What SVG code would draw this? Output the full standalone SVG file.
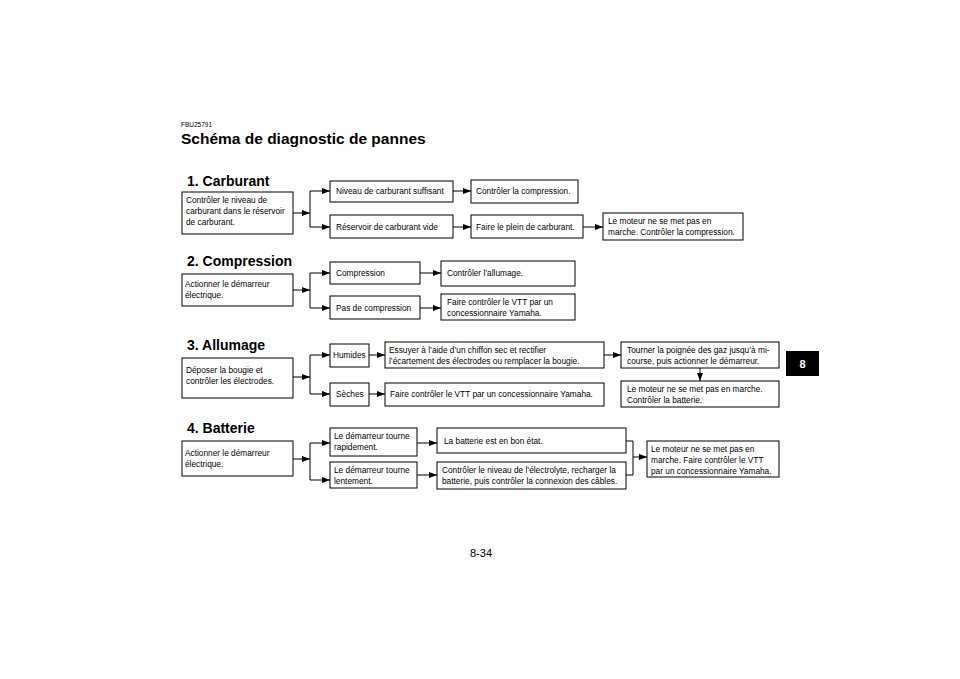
<svg xmlns="http://www.w3.org/2000/svg" width="960" height="679" viewBox="0 0 960 679">
<defs>
<marker id="ar" markerWidth="8" markerHeight="6" refX="8" refY="3" orient="auto" markerUnits="userSpaceOnUse"><path d="M0,0 L8,3 L0,6 z" fill="#000"/></marker>
<style>
.b{fill:#fff;stroke:#000;stroke-width:1}
.t{font-family:"Liberation Sans",Arial,sans-serif;font-size:8.3px;fill:#000}
.h{font-family:"Liberation Sans",Arial,sans-serif;font-size:14px;font-weight:bold;fill:#000}
.c{fill:none;stroke:#000;stroke-width:1}
.a{fill:none;stroke:#000;stroke-width:1;marker-end:url(#ar)}
</style>
</defs>
<rect width="960" height="679" fill="#fff"/>
<text x="181" y="127" style="font-family:'Liberation Sans',Arial,sans-serif;font-size:6.5px">FBU25791</text>
<text x="181" y="144" style="font-family:'Liberation Sans',Arial,sans-serif;font-size:15.5px;font-weight:bold">Schéma de diagnostic de pannes</text>
<text class="h" x="187" y="186">1. Carburant</text>
<text class="h" x="187" y="266">2. Compression</text>
<text class="h" x="187" y="350">3. Allumage</text>
<text class="h" x="187" y="433">4. Batterie</text>
<g id="connectors">
<path class="a" d="M293,213 H310"/><path class="c" d="M310,191 V227"/><path class="a" d="M310,191 H330"/><path class="a" d="M310,227 H330"/>
<path class="a" d="M453,191 H471"/><path class="a" d="M453,227 H471"/><path class="a" d="M583,227 H603"/>
<path class="a" d="M293,290 H310"/><path class="c" d="M310,273 V308"/><path class="a" d="M310,273 H330"/><path class="a" d="M310,308 H330"/>
<path class="a" d="M420,273 H441"/><path class="a" d="M420,308 H441"/>
<path class="a" d="M293,377 H310"/><path class="c" d="M310,355 V394"/><path class="a" d="M310,355 H330"/><path class="a" d="M310,394 H330"/>
<path class="a" d="M369,355 H385"/><path class="a" d="M369,394 H385"/><path class="a" d="M604,355 H621"/><path class="a" d="M700,368 V381"/>
<path class="a" d="M293,459 H310"/><path class="c" d="M310,443 V480"/><path class="a" d="M310,443 H330"/><path class="a" d="M310,480 H330"/>
<path class="a" d="M417,443 H437"/><path class="a" d="M417,475 H437"/>
<path class="c" d="M626,441 H633 V475 H626"/><path class="a" d="M633,457 H647"/>
</g>
<g id="n1a"><rect class="b" x="182" y="192" width="111" height="42"/><text class="t" x="186" y="203">Contrôler le niveau de</text><text class="t" x="186" y="214">carburant dans le réservoir</text><text class="t" x="186" y="225">de carburant.</text></g>
<g id="n1b"><rect class="b" x="330" y="181" width="123" height="21"/><text class="t" x="336" y="194">Niveau de carburant suffisant</text></g>
<g id="n1c"><rect class="b" x="330" y="215" width="123" height="23"/><text class="t" x="336" y="230">Réservoir de carburant vide</text></g>
<g id="n1d"><rect class="b" x="471" y="180" width="107" height="23"/><text class="t" x="476" y="194">Contrôler la compression.</text></g>
<g id="n1e"><rect class="b" x="471" y="215" width="112" height="23"/><text class="t" x="476" y="230">Faire le plein de carburant.</text></g>
<g id="n1f"><rect class="b" x="603" y="213" width="140" height="27"/><text class="t" x="608" y="224">Le moteur ne se met pas en</text><text class="t" x="608" y="235">marche. Contrôler la compression.</text></g>
<g id="n2a"><rect class="b" x="182" y="274" width="111" height="32"/><text class="t" x="185" y="287">Actionner le démarreur</text><text class="t" x="185" y="298">électrique.</text></g>
<g id="n2b"><rect class="b" x="330" y="262" width="90" height="22"/><text class="t" x="336" y="276">Compression</text></g>
<g id="n2c"><rect class="b" x="330" y="296" width="90" height="23"/><text class="t" x="336" y="311">Pas de compression</text></g>
<g id="n2d"><rect class="b" x="441" y="261" width="134" height="25"/><text class="t" x="447" y="276">Contrôler l’allumage.</text></g>
<g id="n2e"><rect class="b" x="441" y="294" width="134" height="26"/><text class="t" x="447" y="305">Faire contrôler le VTT par un</text><text class="t" x="447" y="316">concessionnaire Yamaha.</text></g>
<g id="n3a"><rect class="b" x="182" y="358" width="111" height="40"/><text class="t" x="186" y="373">Déposer la bougie et</text><text class="t" x="186" y="384">contrôler les électrodes.</text></g>
<g id="n3b"><rect class="b" x="330" y="344" width="39" height="23"/><text class="t" x="333" y="358">Humides</text></g>
<g id="n3c"><rect class="b" x="330" y="383" width="39" height="23"/><text class="t" x="336" y="397">Sèches</text></g>
<g id="n3d"><rect class="b" x="385" y="342" width="219" height="26"/><text class="t" x="389" y="353">Essuyer à l’aide d’un chiffon sec et rectifier</text><text class="t" x="389" y="364">l’écartement des électrodes ou remplacer la bougie.</text></g>
<g id="n3e"><rect class="b" x="385" y="383" width="219" height="23"/><text class="t" x="390" y="397">Faire contrôler le VTT par un concessionnaire Yamaha.</text></g>
<g id="n3f"><rect class="b" x="621" y="342" width="158" height="26"/><text class="t" x="627" y="353">Tourner la poignée des gaz jusqu’à mi-</text><text class="t" x="627" y="364">course, puis actionner le démarreur.</text></g>
<g id="n3g"><rect class="b" x="621" y="381" width="158" height="26"/><text class="t" x="627" y="392">Le moteur ne se met pas en marche.</text><text class="t" x="627" y="403">Contrôler la batterie.</text></g>
<g id="n4a"><rect class="b" x="182" y="441" width="111" height="35"/><text class="t" x="185" y="456">Actionner le démarreur</text><text class="t" x="185" y="467">électrique.</text></g>
<g id="n4b"><rect class="b" x="330" y="428" width="87" height="28"/><text class="t" x="334" y="439">Le démarreur tourne</text><text class="t" x="334" y="450">rapidement.</text></g>
<g id="n4c"><rect class="b" x="330" y="462" width="87" height="26"/><text class="t" x="334" y="473">Le démarreur tourne</text><text class="t" x="334" y="484">lentement.</text></g>
<g id="n4d"><rect class="b" x="437" y="428" width="189" height="25"/><text class="t" x="444" y="444">La batterie est en bon état.</text></g>
<g id="n4e"><rect class="b" x="437" y="462" width="189" height="27"/><text class="t" x="442" y="473">Contrôler le niveau de l’électrolyte, recharger la</text><text class="t" x="442" y="484">batterie, puis contrôler la connexion des câbles.</text></g>
<g id="n4f"><rect class="b" x="647" y="441" width="132" height="36"/><text class="t" x="651" y="452">Le moteur ne se met pas en</text><text class="t" x="651" y="463">marche. Faire contrôler le VTT</text><text class="t" x="651" y="474">par un concessionnaire Yamaha.</text></g>
<rect x="786" y="351" width="33" height="25" fill="#000"/>
<text x="802.5" y="368" text-anchor="middle" style="font-family:'Liberation Sans',Arial,sans-serif;font-size:11px;font-weight:bold;fill:#fff">8</text>
<text x="481" y="557" text-anchor="middle" style="font-family:'Liberation Sans',Arial,sans-serif;font-size:11px">8-34</text>
</svg>
